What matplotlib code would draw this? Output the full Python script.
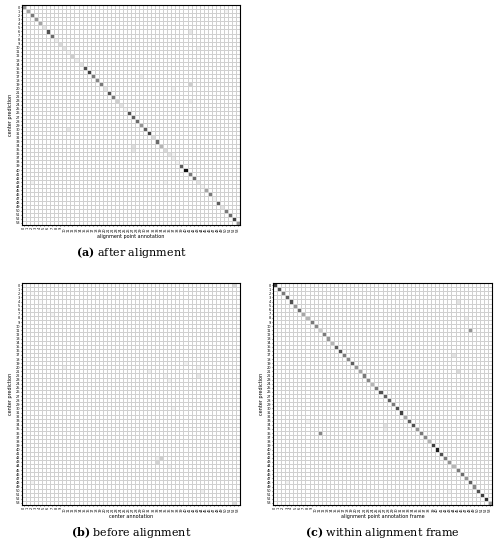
import numpy as np
import matplotlib.pyplot as plt

plt.rcParams["mathtext.fontset"] = "dejavuserif"

N = 54
labels = [str(i) for i in range(N)]

# diagonal intensity (0..1) per panel
diag_a = [0.5, 0.45, 0.6, 0.5, 0.45, 0.2, 0.75, 0.65, 0.15, 0.25, 0.2, 0.1, 0.3, 0.15, 0.2, 0.75,
          0.8, 0.6, 0.55, 0.6, 0.2, 0.75, 0.6, 0.3, 0.2, 0.1, 0.75, 0.7, 0.65, 0.5, 0.7, 0.8,
          0.25, 0.65, 0.4, 0.25, 0.2, 0.15, 0.1, 0.7, 0.95, 0.6, 0.65, 0.2, 0.1, 0.45, 0.6, 0.1,
          0.7, 0.2, 0.6, 0.65, 0.8, 0.5]
diag_b = [0.05] * 10 + [0.0] * 44
diag_c = [0.8, 0.75, 0.6, 0.7, 0.75, 0.5, 0.65, 0.45, 0.4, 0.6, 0.55, 0.3, 0.6, 0.5, 0.4, 0.7,
          0.75, 0.6, 0.55, 0.7, 0.5, 0.45, 0.6, 0.55, 0.4, 0.6, 0.75, 0.7, 0.7, 0.6, 0.75, 0.8,
          0.45, 0.7, 0.75, 0.5, 0.6, 0.55, 0.4, 0.8, 0.9, 0.75, 0.6, 0.5, 0.4, 0.6, 0.65, 0.5,
          0.7, 0.55, 0.75, 0.8, 0.85, 0.5]

# off-diagonal (row, col, value)
off_a = [(6, 41, 0.18), (10, 43, 0.12), (17, 29, 0.14), (19, 41, 0.3), (20, 37, 0.12), (23, 41, 0.14),
         (30, 11, 0.18), (34, 27, 0.22), (35, 27, 0.18), (43, 2, 0.12), (43, 35, 0.1), (1, 50, 0.1),
         (46, 35, 0.08), (36, 37, 0.1)]
off_b = [(0, 52, 0.25), (7, 7, 0.1), (20, 10, 0.12), (20, 43, 0.12), (22, 43, 0.18), (21, 31, 0.14),
         (23, 36, 0.12), (22, 35, 0.1), (19, 40, 0.12), (42, 34, 0.3), (43, 33, 0.28),
         (42, 33, 0.12), (44, 36, 0.12), (48, 2, 0.1), (50, 44, 0.14), (53, 52, 0.22), (30, 37, 0.1)]
off_c = [(4, 45, 0.2), (8, 47, 0.15), (11, 48, 0.5), (17, 44, 0.2), (21, 45, 0.25), (21, 49, 0.12),
         (34, 27, 0.2), (35, 27, 0.15), (36, 11, 0.55), (27, 46, 0.1), (48, 3, 0.12),
         (50, 43, 0.1), (33, 8, 0.1), (40, 33, 0.1)]


def build(diag, off):
    m = np.zeros((N, N))
    m[np.arange(N), np.arange(N)] = diag
    for r, c, v in off:
        m[r, c] = v
    return m


def draw(ax, m, xlabel, tag, caption):
    ax.pcolormesh(m, cmap="Greys", vmin=0, vmax=1, edgecolors="#d0d0d0", linewidth=0.4)
    ax.set_xlim(0, N)
    ax.set_ylim(N, 0)
    ax.set_xticks(np.arange(N) + 0.5)
    ax.set_xticklabels(labels, rotation=90, fontsize=2.5)
    ax.set_yticks(np.arange(N) + 0.5)
    ax.set_yticklabels(labels, fontsize=2.5)
    ax.tick_params(length=1, width=0.4, pad=0.5)
    ax.set_xlabel(xlabel, fontsize=3.5, labelpad=1.5)
    ax.set_ylabel("center prediction", fontsize=3.5, labelpad=1.5)
    for s in ax.spines.values():
        s.set_linewidth(0.8)
    ax.text(0.5, -0.09, r"$\mathbf{(" + tag + r")}$ " + caption, transform=ax.transAxes,
            ha="center", va="top", fontsize=8, family="DejaVu Serif")


fig = plt.figure(figsize=(5.03, 5.5), dpi=100)
W, H = 503, 550
ax_a = fig.add_axes([22 / W, 1 - 225 / H, 218 / W, 220 / H])
ax_b = fig.add_axes([22 / W, 1 - 505 / H, 218 / W, 222 / H])
ax_c = fig.add_axes([273 / W, 1 - 505 / H, 219 / W, 222 / H])

draw(ax_a, build(diag_a, off_a), "alignment point annotation", "a", "after alignment")
draw(ax_b, build(diag_b, off_b), "center annotation", "b", "before alignment")
draw(ax_c, build(diag_c, off_c), "alignment point annotation frame", "c", "within alignment frame")

fig.savefig("out.png", dpi=100)
